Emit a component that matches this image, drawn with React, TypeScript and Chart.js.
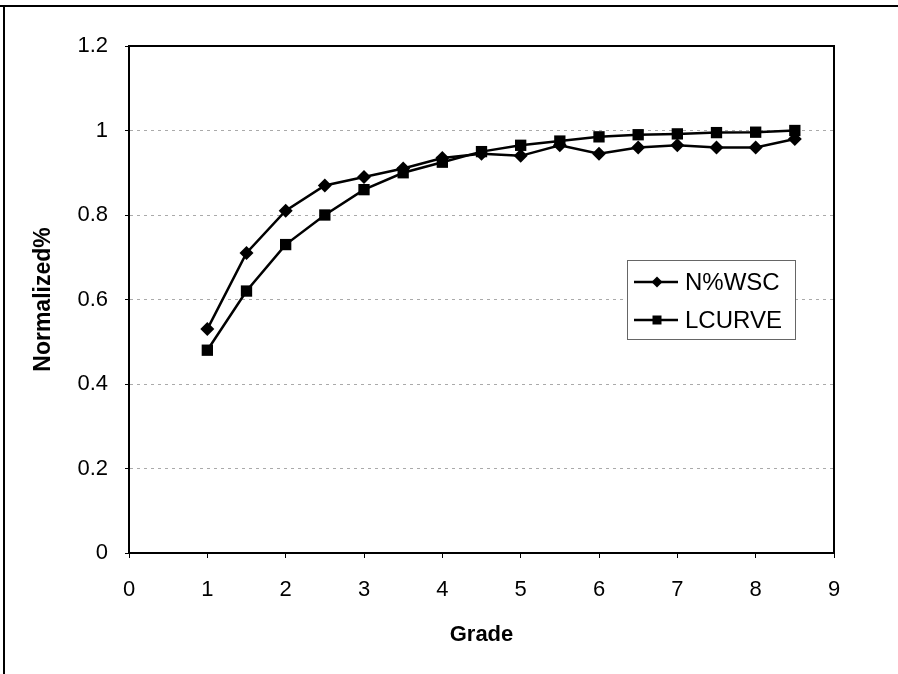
import React, { useEffect, useRef } from "react";
import { Chart, registerables } from "chart.js";

Chart.register(...registerables);

const grades = [1, 1.5, 2, 2.5, 3, 3.5, 4, 4.5, 5, 5.5, 6, 6.5, 7, 7.5, 8, 8.5];
const nwscValues = [0.53, 0.71, 0.81, 0.87, 0.89, 0.91, 0.935, 0.945, 0.94, 0.965, 0.945, 0.96, 0.965, 0.96, 0.96, 0.98];
const lcurveValues = [0.48, 0.62, 0.73, 0.8, 0.86, 0.9, 0.925, 0.95, 0.965, 0.975, 0.985, 0.99, 0.992, 0.995, 0.996, 1.0];
const seriesLabels = ["N%WSC", "LCURVE"];
const xTitle = "Grade";
const yTitle = "Normalized%";

const FONT = "'Liberation Sans', Arial, Helvetica, sans-serif";

const framePlugin = {
  id: "frame",
  afterDraw(chart: any) {
    const { ctx, chartArea, width, height } = chart;
    ctx.save();
    // outer page frame (top + left)
    ctx.strokeStyle = "#000";
    ctx.lineWidth = 2;
    ctx.beginPath();
    ctx.moveTo(0, 6);
    ctx.lineTo(width, 6);
    ctx.moveTo(4, 6);
    ctx.lineTo(4, height);
    ctx.stroke();
    // plot box
    ctx.lineWidth = 2;
    ctx.strokeRect(chartArea.left, chartArea.top, chartArea.right - chartArea.left, chartArea.bottom - chartArea.top);
    // legend box
    const bx = 627, by = 260, bw = 168, bh = 79;
    ctx.fillStyle = "#fff";
    ctx.fillRect(bx, by, bw, bh);
    ctx.lineWidth = 1;
    ctx.strokeStyle = "#666";
    ctx.strokeRect(bx + 0.5, by + 0.5, bw, bh);
    const rows = [282, 320];
    chart.data.datasets.forEach((ds: any, i: number) => {
      const y = rows[i];
      ctx.strokeStyle = ds.borderColor;
      ctx.lineWidth = 2.5;
      ctx.beginPath();
      ctx.moveTo(634, y);
      ctx.lineTo(678, y);
      ctx.stroke();
      ctx.fillStyle = "#000";
      ctx.beginPath();
      if (ds.pointStyle === "rectRot") {
        const r = 5.5;
        ctx.moveTo(657, y - r);
        ctx.lineTo(657 + r, y);
        ctx.lineTo(657, y + r);
        ctx.lineTo(657 - r, y);
        ctx.closePath();
      } else {
        ctx.rect(657 - 4.5, y - 4.5, 9, 9);
      }
      ctx.fill();
      ctx.fillStyle = "#000";
      ctx.font = `24px ${FONT}`;
      ctx.textBaseline = "middle";
      ctx.textAlign = "left";
      ctx.fillText(ds.label, 685, y + 1);
    });
    ctx.restore();
  },
};

export default function App() {
  const ref = useRef<HTMLCanvasElement | null>(null);
  useEffect(() => {
    if (!ref.current) return;
    const chart = new Chart(ref.current, {
      type: "line",
      data: {
        datasets: [
          {
            label: seriesLabels[0],
            data: grades.map((g, i) => ({ x: g, y: nwscValues[i] })),
            borderColor: "#000",
            backgroundColor: "#000",
            borderWidth: 2.5,
            pointStyle: "rectRot",
            pointRadius: 7,
            pointBorderWidth: 0,
            tension: 0,
          },
          {
            label: seriesLabels[1],
            data: grades.map((g, i) => ({ x: g, y: lcurveValues[i] })),
            borderColor: "#000",
            backgroundColor: "#000",
            borderWidth: 2.5,
            pointStyle: "rect",
            pointRadius: 8,
            pointBorderWidth: 0,
            tension: 0,
          },
        ],
      },
      options: {
        responsive: false,
        animation: false,
        layout: { padding: { top: 46, right: 64, left: 0, bottom: 0 } },
        plugins: {
          legend: { display: false },
          tooltip: { enabled: false },
        },
        scales: {
          x: {
            type: "linear",
            min: 0,
            max: 9,
            ticks: {
              stepSize: 1,
              color: "#000",
              font: { family: FONT, size: 22 },
              padding: 19,
              maxRotation: 0,
            },
            grid: {
              drawOnChartArea: false,
              drawTicks: true,
              tickLength: 5,
              tickColor: "#000",
              tickWidth: 1,
            },
            border: { display: true, color: "#000", width: 2 },
            title: {
              display: true,
              text: xTitle,
              color: "#000",
              font: { family: FONT, size: 22, weight: "bold" },
              padding: { top: 0, bottom: 26 },
            },
            afterFit(scale: any) {
              scale.height = 121;
            },
          },
          y: {
            type: "linear",
            min: 0,
            max: 1.2,
            ticks: {
              stepSize: 0.2,
              color: "#000",
              font: { family: FONT, size: 22 },
              padding: 17,
              callback: (v: any) => String(Math.round(Number(v) * 10) / 10),
            },
            grid: {
              color: "#aaa",
              lineWidth: 1,
              drawTicks: true,
              tickLength: 4,
              tickColor: "#000",
              tickWidth: 1,
            },
            border: { display: true, color: "#000", width: 2, dash: [3, 4] },
            title: {
              display: true,
              text: yTitle,
              color: "#000",
              font: { family: FONT, size: 23, weight: "bold" },
              padding: { top: 30, bottom: 0 },
            },
            afterFit(scale: any) {
              scale.width = 129;
            },
          },
        },
      },
      plugins: [framePlugin],
    });
    return () => chart.destroy();
  }, []);
  return (
    <div style={{ position: "fixed", left: 0, top: 0, width: 898, height: 674, background: "#fff" }}>
      <canvas ref={ref} width={898} height={674} style={{ display: "block" }} />
    </div>
  );
}
